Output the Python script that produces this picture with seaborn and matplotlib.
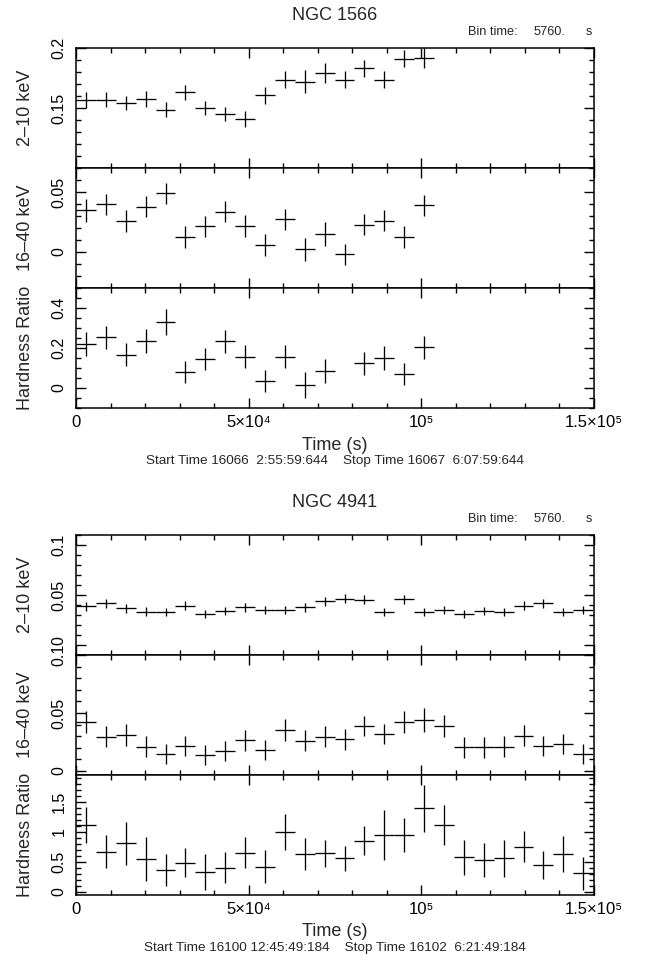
import numpy as np
import matplotlib
matplotlib.use("Agg")
import matplotlib.pyplot as plt
import seaborn as sns
from matplotlib.ticker import FixedLocator

sns.set_theme(style="ticks")
plt.rcParams["font.family"] = ["Liberation Sans", "DejaVu Sans"]

# ---------------- data ----------------
BIN_TIME = 5760.0

# NGC 1566
t_1566 = [2880, 8640, 14400, 20160, 25920, 31680, 37440, 43200, 48960, 54720,
          60480, 66240, 72000, 77760, 83520, 89280, 95040, 100800]
hard_1566 = [0.157, 0.157, 0.154, 0.1575, 0.1486, 0.163, 0.150, 0.145, 0.141,
             0.1606, 0.1736, 0.172, 0.179, 0.1736, 0.183, 0.1736, 0.191, 0.1917]
hard_1566_err = [0.0067, 0.006, 0.006, 0.0065, 0.006, 0.006, 0.006, 0.006, 0.0065,
                 0.007, 0.007, 0.0097, 0.0085, 0.007, 0.007, 0.007, 0.007, 0.0083]
soft_1566 = [0.0346, 0.0396, 0.0256, 0.0379, 0.049, 0.0126, 0.0213, 0.0337, 0.0219,
             0.0056, 0.0272, 0.0022, 0.0149, -0.002, 0.0228, 0.0261, 0.0126, 0.0388]
soft_1566_err = [0.0093, 0.009, 0.009, 0.009, 0.0087, 0.009, 0.009, 0.009, 0.009,
                 0.009, 0.009, 0.0098, 0.0098, 0.009, 0.009, 0.009, 0.009, 0.009]
hr_1566 = [0.22, 0.253, 0.167, 0.237, 0.328, 0.078, 0.145, 0.233, 0.157, 0.033,
           0.157, 0.0167, 0.087, np.nan, 0.123, 0.15, 0.07, 0.203]
hr_1566_err = [0.058, 0.058, 0.058, 0.06, 0.065, 0.055, 0.055, 0.058, 0.058, 0.055,
               0.058, 0.065, 0.06, np.nan, 0.058, 0.058, 0.055, 0.058]

# NGC 4941
t_4941 = [2880, 8640, 14400, 20160, 25920, 31680, 37440, 43200, 48960, 54720,
          60480, 66240, 72000, 77760, 83520, 89280, 95040, 100800, 106560, 112320,
          118080, 123840, 129600, 135360, 141120, 146880]
hard_4941 = [0.0387, 0.0419, 0.0370, 0.0334, 0.0327, 0.0393, 0.0311, 0.0344, 0.0377,
             0.0354, 0.0354, 0.0377, 0.0436, 0.0465, 0.0452, 0.0334, 0.0459, 0.0327,
             0.0354, 0.0311, 0.0340, 0.0334, 0.0393, 0.0419, 0.0334, 0.0354]
hard_4941_err = [0.0045, 0.0045, 0.0045, 0.0045, 0.004, 0.0045, 0.004, 0.004, 0.0045,
                 0.004, 0.004, 0.0045, 0.0045, 0.0045, 0.0045, 0.004, 0.0045, 0.004,
                 0.004, 0.004, 0.004, 0.004, 0.0045, 0.0045, 0.004, 0.004]
soft_4941 = [0.0425, 0.0296, 0.0310, 0.0210, 0.0147, 0.0216, 0.0138, 0.0175, 0.0267,
             0.0181, 0.0353, 0.0261, 0.0296, 0.0273, 0.0388, 0.0319, 0.0425, 0.0440,
             0.0388, 0.0204, 0.0204, 0.0210, 0.0305, 0.0216, 0.0233, 0.0147]
soft_4941_err = [0.0093, 0.009, 0.0095, 0.009, 0.0085, 0.0085, 0.009, 0.0085, 0.009,
                 0.0085, 0.0095, 0.009, 0.009, 0.009, 0.009, 0.009, 0.0095, 0.01,
                 0.0095, 0.009, 0.009, 0.009, 0.009, 0.009, 0.009, 0.0086]
hr_4941 = [1.117, 0.672, 0.811, 0.55, 0.367, 0.489, 0.339, 0.406, 0.656, 0.422,
           1.006, 0.633, 0.644, 0.561, 0.856, 0.95, 0.95, 1.394, 1.117, 0.578,
           0.533, 0.561, 0.756, 0.45, 0.633, 0.311]
hr_4941_err = [0.30, 0.28, 0.36, 0.36, 0.27, 0.24, 0.30, 0.26, 0.26, 0.28,
               0.30, 0.26, 0.23, 0.21, 0.24, 0.41, 0.29, 0.39, 0.34, 0.29,
               0.29, 0.31, 0.26, 0.23, 0.30, 0.27]

x_ticks = [0, 50000, 100000, 150000]
x_tick_labels = ["0", "5×10⁴", "10⁵", "1.5×10⁵"]

groups = [
    dict(name="NGC 1566", t=t_1566,
         start="Start Time 16066  2:55:59:644    Stop Time 16067  6:07:59:644",
         top=48,
         panels=[
             dict(y=hard_1566, e=hard_1566_err, lim=(0.1, 0.2), ticks=[0.15, 0.2],
                  labels=["0.15", "0.2"], minor=0.01, ylabel="2–10 keV"),
             dict(y=soft_1566, e=soft_1566_err, lim=(-0.03, 0.07), ticks=[0, 0.05],
                  labels=["0", "0.05"], minor=0.01, ylabel="16–40 keV"),
             dict(y=hr_1566, e=hr_1566_err, lim=(-0.1, 0.5), ticks=[0, 0.2, 0.4],
                  labels=["0", "0.2", "0.4"], minor=0.05, ylabel="Hardness Ratio"),
         ]),
    dict(name="NGC 4941", t=t_4941,
         start="Start Time 16100 12:45:49:184    Stop Time 16102  6:21:49:184",
         top=535,
         panels=[
             dict(y=hard_4941, e=hard_4941_err, lim=(-0.01, 0.11), ticks=[0, 0.05, 0.1],
                  labels=["0", "0.05", "0.1"], minor=0.01, ylabel="2–10 keV"),
             dict(y=soft_4941, e=soft_4941_err, lim=(-0.0034, 0.1), ticks=[0, 0.05, 0.1],
                  labels=["0", "0.05", "0.1"], minor=0.01, ylabel="16–40 keV"),
             dict(y=hr_4941, e=hr_4941_err, lim=(-0.05, 1.95), ticks=[0, 0.5, 1, 1.5],
                  labels=["0", "0.5", "1", "1.5"], minor=0.1, ylabel="Hardness Ratio"),
         ]),
]

# ---------------- layout ----------------
W, H = 646, 958
fig = plt.figure(figsize=(W / 100, H / 100), dpi=100)
fig.patch.set_facecolor("white")

AX_L, AX_R = 76, 594
PANEL_H = 120


def ftext(x, y, s, **kw):
    fig.text(x / W, 1 - y / H, s, **kw)


for g in groups:
    top = g["top"]
    cx = (AX_L + AX_R) / 2
    ftext(cx, top - 33, g["name"], ha="center", va="center", fontsize=13)
    ftext(467.5, top - 16, "Bin time:", ha="left", va="center", fontsize=9.2)
    ftext(534, top - 16, "5760.", ha="left", va="center", fontsize=9.2)
    ftext(586, top - 16, "s", ha="left", va="center", fontsize=9.2)
    for i, p in enumerate(g["panels"]):
        ptop = top + i * PANEL_H
        ax = fig.add_axes([AX_L / W, 1 - (ptop + PANEL_H) / H,
                           (AX_R - AX_L) / W, PANEL_H / H])
        ax.set_facecolor("white")
        ax.errorbar(g["t"], p["y"], xerr=BIN_TIME / 2, yerr=p["e"], fmt="none",
                    ecolor="black", elinewidth=0.95, capsize=0)
        ax.set_xlim(0, 150000)
        ax.set_ylim(*p["lim"])
        ax.xaxis.set_major_locator(FixedLocator(x_ticks))
        ax.xaxis.set_minor_locator(FixedLocator(np.arange(10000, 150000, 10000)))
        lo, hi = p["lim"]
        mstep = p["minor"]
        minors = np.arange(np.ceil(lo / mstep) * mstep, hi + 1e-9, mstep)
        ax.yaxis.set_major_locator(FixedLocator(p["ticks"]))
        ax.yaxis.set_minor_locator(FixedLocator(minors))
        ylabs = ax.set_yticklabels(p["labels"], rotation=90, va="center")
        # lowest label of a panel sitting close above the next panel's top label
        if lo < 0 and (hi - 0) / (hi - lo) > 0.9 and i < 2 and g["name"] == "NGC 4941" and i == 0:
            ylabs[0].set_va("bottom")
        if i == 2:
            ax.set_xticklabels(x_tick_labels)
        else:
            ax.set_xticklabels([])
        ax.tick_params(which="both", direction="in", top=True, right=True,
                       color="black", width=1.0)
        ax.tick_params(which="major", length=7)
        ax.tick_params(which="minor", length=3.6)
        ax.tick_params(axis="y", pad=7, labelsize=11.5, labelcolor="black")
        ax.tick_params(axis="x", pad=5, labelsize=12, labelcolor="black")
        for s in ax.spines.values():
            s.set_color("black")
            s.set_linewidth(1.1)
            s.set_visible(True)
        ax.grid(False)
        ftext(26, ptop + PANEL_H / 2, p["ylabel"], ha="center", va="center",
              rotation=90, fontsize=13)
    bottom = top + 3 * PANEL_H
    ftext(cx, bottom + 37, "Time (s)", ha="center", va="center", fontsize=13)
    ftext(cx, bottom + 53, g["start"], ha="center", va="center", fontsize=9.7)

fig.savefig("out.png", dpi=100, facecolor="white")
